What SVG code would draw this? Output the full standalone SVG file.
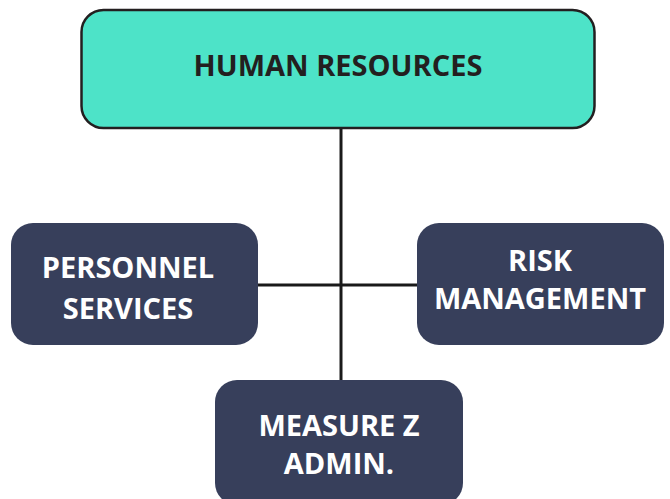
<svg xmlns="http://www.w3.org/2000/svg" width="670" height="499" viewBox="0 0 670 499">
<style>
.t{font-family:"Open Sans","Liberation Sans",sans-serif;font-weight:700;text-anchor:middle}
.w{fill:#ffffff;font-size:29px}
.d{fill:#231f20;font-size:29px}
.n{fill:#373f5b}
.c{stroke:#1a1a1a;stroke-width:3;fill:none}
</style>
<rect width="670" height="499" fill="#ffffff"/>
<g id="connectors">
<line class="c" x1="341" y1="128" x2="341" y2="381"/>
<line class="c" x1="258" y1="285" x2="418" y2="285"/>
</g>
<g id="human-resources">
<rect x="81.5" y="10" width="513" height="118" rx="22" fill="#4de3c8" stroke="#231f20" stroke-width="2.5"/>
<text class="t d" x="338" y="76">HUMAN RESOURCES</text>
</g>
<g id="personnel-services">
<rect class="n" x="11" y="223" width="247" height="122" rx="22"/>
<text class="t w" x="128" y="278">PERSONNEL</text>
<text class="t w" x="128" y="319">SERVICES</text>
</g>
<g id="risk-management">
<rect class="n" x="417" y="223" width="247" height="122" rx="22"/>
<text class="t w" x="540" y="271">RISK</text>
<text class="t w" x="540" y="309">MANAGEMENT</text>
</g>
<g id="measure-z-admin">
<rect class="n" x="215" y="380" width="248" height="125" rx="22"/>
<text class="t w" x="339" y="436">MEASURE Z</text>
<text class="t w" x="339" y="474">ADMIN.</text>
</g>
</svg>
